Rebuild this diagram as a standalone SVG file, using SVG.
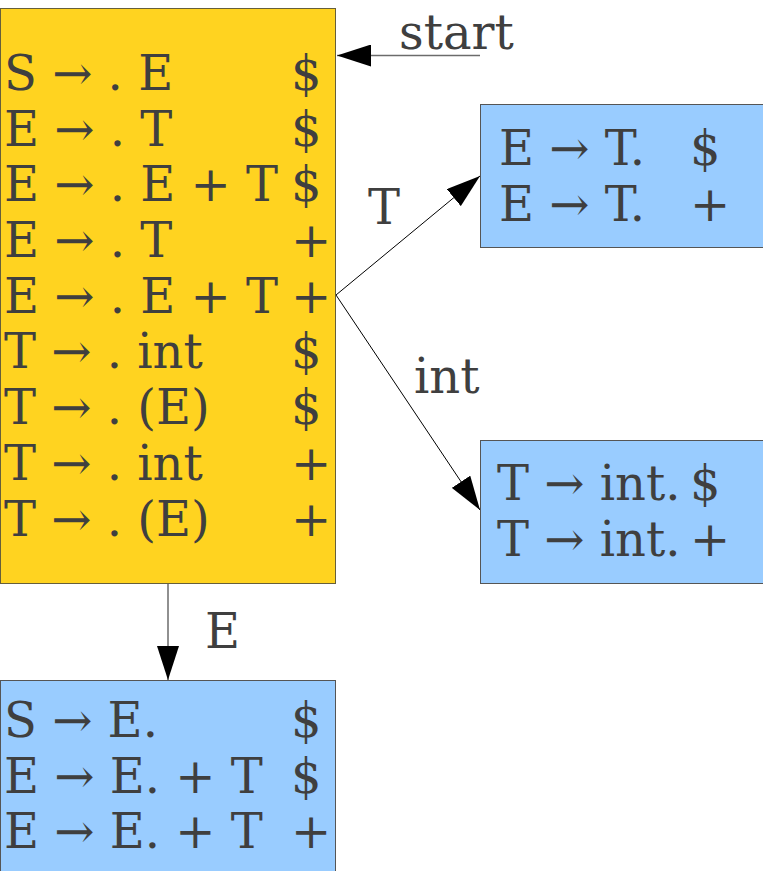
<svg xmlns="http://www.w3.org/2000/svg" width="763" height="871" viewBox="0 0 763 871">
<defs>
<style>
.t{font-family:"DejaVu Serif",serif;font-size:48px;fill:#3f3f3f}
.yb{fill:#ffd320;stroke:#665f3a;stroke-width:1}
.bb{fill:#99ccff;stroke:#555;stroke-width:1}
.c{stroke:#000;stroke-width:1;fill:none}
.g{stroke:#6b6b6b;stroke-width:1.5;fill:none}
</style>
<marker id="ah" markerUnits="userSpaceOnUse" markerWidth="34" markerHeight="22" refX="34" refY="11" orient="auto" viewBox="0 0 34 22">
<path d="M0,0 L34,11 L0,22 z" fill="#000"/>
</marker>
</defs>
<g id="connectors">
<line class="g" x1="480" y1="55.5" x2="337" y2="55.5" marker-end="url(#ah)"/>
<line class="c" x1="336" y1="295" x2="480" y2="176" marker-end="url(#ah)"/>
<line class="c" x1="336" y1="295" x2="480" y2="510" marker-end="url(#ah)"/>
<line class="g" x1="168" y1="584" x2="168" y2="680" marker-end="url(#ah)"/>
<text class="t" x="399" y="49">start</text>
<text class="t" x="368" y="224">T</text>
<text class="t" x="414" y="393">int</text>
<text class="t" x="205" y="648">E</text>
</g>
<g id="state0">
<rect class="yb" x="0.5" y="8.5" width="335" height="575"/>
<text class="t" x="4" y="90">S → . E<tspan x="291">$</tspan></text>
<text class="t" x="4" y="146">E → . T<tspan x="291">$</tspan></text>
<text class="t" x="4" y="201">E → . E + T<tspan x="291">$</tspan></text>
<text class="t" x="4" y="257">E → . T<tspan x="291">+</tspan></text>
<text class="t" x="4" y="313">E → . E + T<tspan x="291">+</tspan></text>
<text class="t" x="4" y="368">T → . int<tspan x="291">$</tspan></text>
<text class="t" x="4" y="424">T → . (E)<tspan x="291">$</tspan></text>
<text class="t" x="4" y="480">T → . int<tspan x="291">+</tspan></text>
<text class="t" x="4" y="536">T → . (E)<tspan x="291">+</tspan></text>
</g>
<g id="stateT">
<rect class="bb" x="480.5" y="104.5" width="290" height="143"/>
<text class="t" x="499" y="165">E → T.<tspan x="690">$</tspan></text>
<text class="t" x="499" y="221">E → T.<tspan x="690">+</tspan></text>
</g>
<g id="stateInt">
<rect class="bb" x="480.5" y="440.5" width="290" height="143"/>
<text class="t" x="497" y="500">T → int.<tspan x="690">$</tspan></text>
<text class="t" x="497" y="556">T → int.<tspan x="690">+</tspan></text>
</g>
<g id="stateE">
<rect class="bb" x="0.5" y="680.5" width="335" height="200"/>
<text class="t" x="4" y="737">S → E.<tspan x="291">$</tspan></text>
<text class="t" x="4" y="793">E → E. + T<tspan x="291">$</tspan></text>
<text class="t" x="4" y="848">E → E. + T<tspan x="291">+</tspan></text>
</g>
</svg>
